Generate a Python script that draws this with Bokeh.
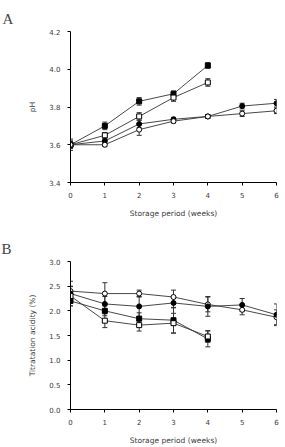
from bokeh.plotting import figure
from bokeh.layouts import column
from bokeh.models import Whisker, ColumnDataSource, FixedTicker, Range1d, PrintfTickFormatter
from bokeh.embed import file_html
from bokeh.resources import INLINE

weeks4 = [0, 1, 2, 3, 4]
weeks6 = [0, 1, 2, 3, 4, 5, 6]

# Panel A: pH
ph_fsq = [3.60, 3.70, 3.83, 3.87, 4.02]
ph_fsq_err = [0.015, 0.02, 0.02, 0.015, 0.015]
ph_osq = [3.60, 3.65, 3.75, 3.85, 3.93]
ph_osq_err = [0.02, 0.015, 0.02, 0.02, 0.02]
ph_fci = [3.60, 3.62, 3.71, 3.735, 3.75, 3.805, 3.82]
ph_fci_err = [0.02, 0.015, 0.02, 0.01, 0.01, 0.015, 0.02]
ph_oci = [3.60, 3.60, 3.68, 3.725, 3.75, 3.765, 3.78]
ph_oci_err = [0.03, 0.01, 0.03, 0.01, 0.01, 0.015, 0.015]

# Panel B: titratable acidity
ta_oci = [2.40, 2.35, 2.35, 2.28, 2.13, 2.02, 1.87]
ta_oci_err = [0.2, 0.22, 0.07, 0.14, 0.15, 0.1, 0.15]
ta_fci = [2.35, 2.14, 2.09, 2.16, 2.09, 2.12, 1.92]
ta_fci_err = [0.14, 0.15, 0.2, 0.1, 0.2, 0.13, 0.22]
ta_fsq = [2.20, 2.00, 1.84, 1.81, 1.43]
ta_fsq_err = [0.1, 0.1, 0.12, 0.26, 0.16]
ta_osq = [2.30, 1.80, 1.71, 1.75, 1.48]
ta_osq_err = [0.2, 0.14, 0.12, 0.2, 0.12]

ph_ticks = [3.4, 3.6, 3.8, 4.0, 4.2]
ta_ticks = [0.0, 0.5, 1.0, 1.5, 2.0, 2.5, 3.0]
x_ticks = [0, 1, 2, 3, 4, 5, 6]

FONT = "DejaVu Sans"
TXT = "#3a3a3a"
LINE = "#333333"


def style(p, ylabel, yticks):
    p.xgrid.visible = False
    p.ygrid.visible = False
    p.outline_line_color = None
    p.xaxis.ticker = FixedTicker(ticks=x_ticks)
    p.yaxis.ticker = FixedTicker(ticks=yticks)
    p.yaxis.formatter = PrintfTickFormatter(format="%.1f")
    for ax in (p.xaxis[0], p.yaxis[0]):
        ax.axis_line_color = "black"
        ax.axis_line_width = 1
        ax.major_tick_line_color = "black"
        ax.major_tick_out = 3
        ax.major_tick_in = 0
        ax.minor_tick_line_color = None
        ax.major_label_text_font = FONT
        ax.major_label_text_font_size = "7px"
        ax.major_label_text_color = TXT
        ax.axis_label_text_font = FONT
        ax.axis_label_text_font_size = "7.5px"
        ax.axis_label_text_font_style = "normal"
        ax.axis_label_text_color = TXT
    p.xaxis.axis_label = "Storage period (weeks)"
    p.yaxis.axis_label = ylabel
    p.xaxis.major_label_standoff = 6
    p.yaxis.major_label_standoff = 7
    p.xaxis.axis_label_standoff = 8
    p.yaxis.axis_label_standoff = 9
    p.title.text_font = "Liberation Serif"
    p.title.text_font_size = "15px"
    p.title.text_font_style = "normal"
    p.title.align = "left"


def series(p, x, y, err, marker, filled):
    src = ColumnDataSource(dict(x=x, y=y, lo=[a - e for a, e in zip(y, err)],
                                hi=[a + e for a, e in zip(y, err)]))
    p.line("x", "y", source=src, line_color=LINE, line_width=0.9)
    w = Whisker(base="x", lower="lo", upper="hi", source=src,
                line_color=LINE, line_width=1)
    w.upper_head.size = 5
    w.lower_head.size = 5
    w.upper_head.line_color = LINE
    w.lower_head.line_color = LINE
    p.add_layout(w)
    p.scatter("x", "y", source=src, marker=marker, size=5,
              line_color="black", line_width=1,
              fill_color="black" if filled else "white")


pA = figure(width=285, height=220, output_backend="svg", toolbar_location=None,
            x_range=Range1d(0, 6), y_range=Range1d(3.4, 4.2),
            min_border_left=69, min_border_right=9, min_border_top=31,
            min_border_bottom=35, title="A")
style(pA, "pH", ph_ticks)
pA.title.offset = -68
series(pA, weeks4, ph_fsq, ph_fsq_err, "square", True)
series(pA, weeks4, ph_osq, ph_osq_err, "square", False)
series(pA, weeks6, ph_fci, ph_fci_err, "circle", True)
series(pA, weeks6, ph_oci, ph_oci_err, "circle", False)

pB = figure(width=285, height=227, output_backend="svg", toolbar_location=None,
            x_range=Range1d(0, 6), y_range=Range1d(0, 3.0),
            min_border_left=70, min_border_right=8, min_border_top=41,
            min_border_bottom=31, title="B")
style(pB, "Titratation acidity (%)", ta_ticks)
pB.title.offset = -69
series(pB, weeks6, ta_oci, ta_oci_err, "circle", False)
series(pB, weeks6, ta_fci, ta_fci_err, "circle", True)
series(pB, weeks4, ta_fsq, ta_fsq_err, "square", True)
series(pB, weeks4, ta_osq, ta_osq_err, "square", False)

layout = column(pA, pB, spacing=0)
open("out.html", "w").write(file_html(layout, INLINE))
